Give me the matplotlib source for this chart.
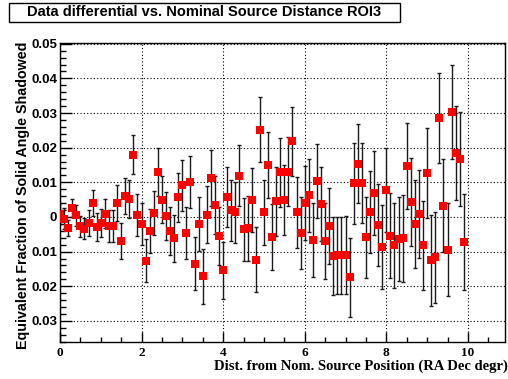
import numpy as np
import matplotlib
matplotlib.use("Agg")
import matplotlib.pyplot as plt
from matplotlib.patches import Rectangle
from matplotlib.ticker import MultipleLocator, FixedLocator

# distance bins (RA Dec degrees)
dist = np.round(np.arange(100) * 0.1, 1)

frac = [
    0.0010, -0.0005, -0.0032, 0.0026, 0.0005, -0.0027, -0.0034, -0.0017, 0.0040, -0.0029,
    -0.0017, 0.0010, -0.0026, -0.0026, 0.0040, -0.0069, 0.0060, 0.0051, 0.0180, 0.0005,
    -0.0020, -0.0126, -0.0041, 0.0012, 0.0130, 0.0050, 0.0003, -0.0041, -0.0062, 0.0057,
    0.0091, -0.0045, 0.0100, -0.0135, -0.0020, -0.0171, 0.0007, 0.0113, 0.0034, -0.0055,
    -0.0154, 0.0058, 0.0019, 0.0013, 0.0119, -0.0036, -0.0033, 0.0049, -0.0123, 0.0252,
    0.0013, 0.0149, -0.0058, 0.0045, 0.0129, 0.0049, 0.0131, 0.0218, 0.0013, -0.0045,
    0.0040, 0.0063, -0.0066, 0.0105, 0.0038, -0.0070, -0.0026, -0.0113, -0.0110, -0.0111,
    -0.0109, -0.0174, 0.0097, 0.0154, 0.0099, -0.0059, 0.0015, 0.0069, -0.0024, -0.0086,
    0.0078, -0.0054, -0.0082, -0.0063, -0.0062, 0.0147, 0.0043, -0.0020, 0.0009, -0.0082,
    0.0127, -0.0125, -0.0116, 0.0286, 0.0033, -0.0094, 0.0304, 0.0185, 0.0167, -0.0073,
]

# symmetric errors
err = [
    0.0030, 0.0030, 0.0022, 0.0025, 0.0030, 0.0030, 0.0031, 0.0037, 0.0037, 0.0040,
    0.0040, 0.0043, 0.0046, 0.0047, 0.0052, 0.0052, 0.0052, 0.0055, 0.0056, 0.0060,
    0.0060, 0.0062, 0.0064, 0.0064, 0.0069, 0.0067, 0.0069, 0.0069, 0.0069, 0.0071,
    0.0073, 0.0075, 0.0075, 0.0077, 0.0079, 0.0080, 0.0082, 0.0080, 0.0084, 0.0083,
    0.0083, 0.0087, 0.0087, 0.0089, 0.0088, 0.0090, 0.0093, 0.0092, 0.0094, 0.0093,
    0.0095, 0.0095, 0.0096, 0.0100, 0.0099, 0.0100, 0.0100, 0.0100, 0.0102, 0.0104,
    0.0107, 0.0105, 0.0106, 0.0107, 0.0107, 0.0109, 0.0110, 0.0112, 0.0111, 0.0112,
    0.0113, 0.0114, 0.0116, 0.0113, 0.0115, 0.0117, 0.0118, 0.0120, 0.0118, 0.0122,
    0.0122, 0.0122, 0.0123, 0.0122, 0.0125, 0.0125, 0.0127, 0.0127, 0.0127, 0.0129,
    0.0129, 0.0132, 0.0131, 0.0130, 0.0133, 0.0133, 0.0136, 0.0135, 0.0135, 0.0138,
]

yticks = [-0.03, -0.02, -0.01, 0, 0.01, 0.02, 0.03, 0.04, 0.05]
ytick_labels = ["0.03", "0.02", "0.01", "0", "0.01", "0.02", "0.03", "0.04", "0.05"]
xticks = [0, 2, 4, 6, 8, 10]

sans = "Liberation Sans"
serif = "Liberation Serif"

fig = plt.figure(figsize=(5.08, 3.79), dpi=100)
ax = fig.add_axes([0.118, 0.0984, 0.877, 0.788])

ax.errorbar(dist, frac, yerr=err, fmt="none", ecolor="#1a1a1a",
            elinewidth=1.0, capsize=1.6, capthick=1.0, zorder=2)
ax.plot(dist, frac, "s", color="#ff0000", markersize=5.2,
        markeredgewidth=0, zorder=3)

ax.set_xlim(0, 10.92)
ax.set_ylim(-0.036, 0.0502)

ax.xaxis.set_major_locator(FixedLocator(xticks))
ax.xaxis.set_minor_locator(MultipleLocator(0.5))
ax.yaxis.set_major_locator(FixedLocator(yticks))
ax.yaxis.set_minor_locator(MultipleLocator(0.002))
ax.set_yticklabels(ytick_labels)

ax.tick_params(axis="both", which="both", direction="in", top=False, right=False,
               width=1.0, color="black")
ax.tick_params(axis="y", which="major", length=8.5, pad=2)
ax.tick_params(axis="y", which="minor", length=4.5)
ax.tick_params(axis="x", which="major", length=7.2, pad=3.5)
ax.tick_params(axis="x", which="minor", length=3.6)

for lab in ax.get_yticklabels():
    lab.set_fontfamily(sans)
    lab.set_fontweight("bold")
    lab.set_fontsize(9.5)
for lab in ax.get_xticklabels():
    lab.set_fontfamily(serif)
    lab.set_fontweight("bold")
    lab.set_fontsize(9.5)

ax.grid(True, which="major", linestyle=(0, (1, 2)), color="black", linewidth=0.8)

for sp in ax.spines.values():
    sp.set_linewidth(1.0)

ax.set_xlabel("Dist. from Nom. Source Position (RA Dec degr)", fontfamily=serif,
              fontweight="bold", fontsize=10.5)
ax.xaxis.set_label_coords(1.005, -0.06)
ax.xaxis.label.set_horizontalalignment("right")
ax.xaxis.label.set_verticalalignment("top")

ax.set_ylabel("Equivalent Fraction of Solid Angle Shadowed", fontfamily=sans,
              fontweight="bold", fontsize=10.3)
ax.yaxis.set_label_coords(-0.084, 0.49)
ax.yaxis.label.set_horizontalalignment("center")
ax.yaxis.label.set_verticalalignment("center")

# title box
fig.patches.append(Rectangle((9 / 508, 1 - 22 / 379), 391 / 508, 19 / 379,
                             transform=fig.transFigure, facecolor="white",
                             edgecolor="black", linewidth=1.0))
fig.text(204 / 508, 1 - 12.5 / 379, "Data differential vs. Nominal Source Distance ROI3",
         ha="center", va="center", fontfamily=sans, fontweight="bold", fontsize=10.5)

fig.savefig("out.png", dpi=100)
